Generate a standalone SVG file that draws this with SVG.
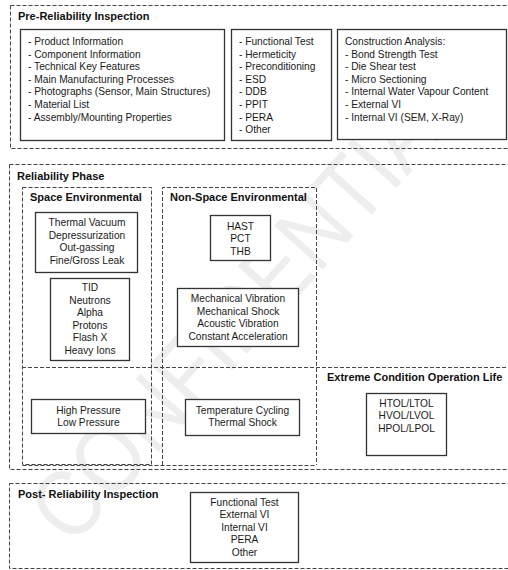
<svg xmlns="http://www.w3.org/2000/svg" width="508" height="570" viewBox="0 0 508 570">
<style>
.dash{fill:none;stroke:#444;stroke-width:1;stroke-dasharray:4 2}
.box{fill:#fff;stroke:#333;stroke-width:1.3}
.t{font-family:"Liberation Sans",Arial,sans-serif;font-size:10.2px;fill:#1a1a1a}
.c{text-anchor:middle}
.h{font-family:"Liberation Sans",Arial,sans-serif;font-size:11px;font-weight:bold;fill:#111}
.wm{font-family:"Liberation Sans",Arial,sans-serif;font-size:95px;fill:#eeeeee}
</style>
<rect width="508" height="570" fill="#fff"/>
<text class="wm" transform="translate(72,548) rotate(-48)" textLength="600" lengthAdjust="spacingAndGlyphs">CONFIDENTIAL</text>

<g id="pre">
<rect class="dash" x="10.5" y="5.5" width="510" height="143"/>
<text class="h" x="18" y="20">Pre-Reliability Inspection</text>
</g>
<g id="pre-info">
<rect class="box" x="20.5" y="29.5" width="204" height="111"/>
<text class="t" x="28" y="45">- Product Information</text>
<text class="t" x="28" y="57.6">- Component Information</text>
<text class="t" x="28" y="70.2">- Technical Key Features</text>
<text class="t" x="28" y="82.8">- Main Manufacturing Processes</text>
<text class="t" x="28" y="95.4">- Photographs (Sensor, Main Structures)</text>
<text class="t" x="28" y="108">- Material List</text>
<text class="t" x="28" y="120.6">- Assembly/Mounting Properties</text>
</g>
<g id="pre-tests">
<rect class="box" x="231.5" y="29.5" width="100" height="111"/>
<text class="t" x="239" y="45">- Functional Test</text>
<text class="t" x="239" y="57.6">- Hermeticity</text>
<text class="t" x="239" y="70.2">- Preconditioning</text>
<text class="t" x="239" y="82.8">- ESD</text>
<text class="t" x="239" y="95.4">- DDB</text>
<text class="t" x="239" y="108">- PPIT</text>
<text class="t" x="239" y="120.6">- PERA</text>
<text class="t" x="239" y="133.2">- Other</text>
</g>
<g id="pre-construction">
<rect class="box" x="337.5" y="29.5" width="169" height="110"/>
<text class="t" x="345" y="45">Construction Analysis:</text>
<text class="t" x="345" y="57.6">- Bond Strength Test</text>
<text class="t" x="345" y="70.2">- Die Shear test</text>
<text class="t" x="345" y="82.8">- Micro Sectioning</text>
<text class="t" x="345" y="95.4">- Internal Water Vapour Content</text>
<text class="t" x="345" y="108">- External VI</text>
<text class="t" x="345" y="120.6">- Internal VI (SEM, X-Ray)</text>
</g>

<g id="reliability">
<rect class="dash" x="9.5" y="164.5" width="510" height="305"/>
<text class="h" x="17" y="180">Reliability Phase</text>
</g>
<g id="space">
<rect class="dash" x="22.5" y="187.5" width="129" height="277"/>
<text class="h" x="30" y="201">Space Environmental</text>
</g>
<g id="nonspace">
<path class="dash" d="M162.5 465 V187.5 H316.5 V465"/>
<text class="h" x="170" y="201">Non-Space Environmental</text>
</g>
<g id="connectors">
<path class="dash" d="M22 367.5 H510"/>
<path class="dash" d="M22.5 465.5 H316.5"/>
</g>
<g id="extreme">
<text class="h" x="327" y="381">Extreme Condition Operation Life</text>
</g>
<g id="thermal-vacuum">
<rect class="box" x="35.5" y="212.5" width="102" height="60"/>
<text class="t c" x="87" y="226">Thermal Vacuum</text>
<text class="t c" x="87" y="238.6">Depressurization</text>
<text class="t c" x="87" y="251.2">Out-gassing</text>
<text class="t c" x="87" y="263.8">Fine/Gross Leak</text>
</g>
<g id="radiation">
<rect class="box" x="50.5" y="278.5" width="79" height="82"/>
<text class="t c" x="90" y="291">TID</text>
<text class="t c" x="90" y="303.6">Neutrons</text>
<text class="t c" x="90" y="316.2">Alpha</text>
<text class="t c" x="90" y="328.8">Protons</text>
<text class="t c" x="90" y="341.4">Flash X</text>
<text class="t c" x="90" y="354">Heavy Ions</text>
</g>
<g id="hast">
<rect class="box" x="210.5" y="215.5" width="60" height="45"/>
<text class="t c" x="240.5" y="229.5">HAST</text>
<text class="t c" x="240.5" y="242">PCT</text>
<text class="t c" x="240.5" y="254.5">THB</text>
</g>
<g id="mechanical">
<rect class="box" x="177.5" y="288.5" width="121" height="58"/>
<text class="t c" x="238" y="302">Mechanical Vibration</text>
<text class="t c" x="238" y="314.6">Mechanical Shock</text>
<text class="t c" x="238" y="327.2">Acoustic Vibration</text>
<text class="t c" x="238" y="339.8">Constant Acceleration</text>
</g>
<g id="pressure">
<rect class="box" x="31.5" y="399.5" width="114" height="34"/>
<text class="t c" x="88.5" y="413.5">High Pressure</text>
<text class="t c" x="88.5" y="426">Low Pressure</text>
</g>
<g id="temperature">
<rect class="box" x="185.5" y="399.5" width="114" height="36"/>
<text class="t c" x="242.5" y="413.5">Temperature Cycling</text>
<text class="t c" x="242.5" y="426">Thermal Shock</text>
</g>
<g id="oplife">
<rect class="box" x="366.5" y="393.5" width="80" height="62"/>
<text class="t c" x="406.5" y="406.5">HTOL/LTOL</text>
<text class="t c" x="406.5" y="419">HVOL/LVOL</text>
<text class="t c" x="406.5" y="431.5">HPOL/LPOL</text>
</g>

<g id="post">
<rect class="dash" x="9.5" y="483.5" width="510" height="85"/>
<text class="h" x="18" y="498">Post- Reliability Inspection</text>
</g>
<g id="post-tests">
<rect class="box" x="190.5" y="492.5" width="108" height="70"/>
<text class="t c" x="244.5" y="505.5">Functional Test</text>
<text class="t c" x="244.5" y="518">External VI</text>
<text class="t c" x="244.5" y="530.5">Internal VI</text>
<text class="t c" x="244.5" y="543">PERA</text>
<text class="t c" x="244.5" y="555.5">Other</text>
</g>
</svg>
